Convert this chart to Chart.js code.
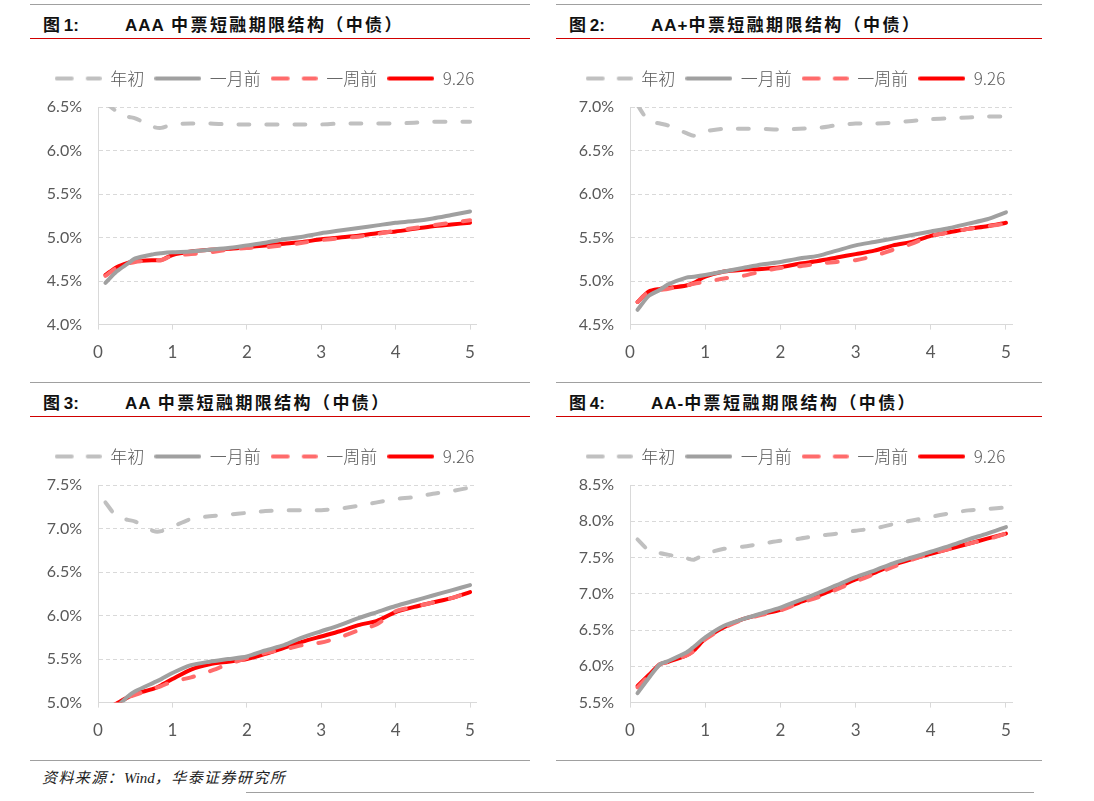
<!DOCTYPE html>
<html lang="zh">
<head>
<meta charset="UTF-8">
<title>中票短融期限结构</title>
<script src="https://cdn.jsdelivr.net/npm/chart.js"></script>
<style>
    body {
        margin: 0;
        width: 1094px;
        height: 801px;
        background: #fff;
        position: relative;
        overflow: hidden;
        font-family: "Noto Sans CJK SC", sans-serif;
    }
    .hline { position: absolute; height: 0; }
    .gray { border-top: 1.5px solid #a0a0a0; }
    .red { border-top: 1.5px solid #d00000; }
    .title {
        position: absolute;
        font-size: 17px;
        font-weight: bold;
        color: #111;
        white-space: nowrap;
        line-height: 20px;
    }
    .title .fig { position: absolute; left: 0; top: 0; }
    .title .fig b { font-family: "Liberation Sans", Arial, sans-serif; }
    .title .name { position: absolute; left: 82px; top: 0; letter-spacing: 2.4px; }
    .title .name b { font-family: "Liberation Sans", Arial, sans-serif; letter-spacing: 1px; }
    canvas { position: absolute; }
    .source {
        position: absolute;
        left: 42px;
        top: 766px;
        font-size: 15px;
        font-style: italic;
        letter-spacing: 1.4px;
        color: #222;
        white-space: nowrap;
    }
    .source span { font-family: "Liberation Serif", serif; letter-spacing: 0; }
</style>
</head>
<body>

<!-- panel frames -->
<div class="hline gray" style="left:30px;top:4px;width:500px"></div>
<div class="hline red" style="left:30px;top:38px;width:500px"></div>
<div class="hline gray" style="left:556px;top:4px;width:486px"></div>
<div class="hline red" style="left:556px;top:38px;width:486px"></div>
<div class="hline gray" style="left:30px;top:382px;width:500px"></div>
<div class="hline red" style="left:30px;top:416px;width:500px"></div>
<div class="hline gray" style="left:556px;top:382px;width:486px"></div>
<div class="hline red" style="left:556px;top:416px;width:486px"></div>

<div class="title" style="left:43px;top:14px"><span class="fig">图 <b>1:</b></span><span class="name"><b>AAA</b> 中票短融期限结构（中债）</span></div>
<div class="title" style="left:569px;top:14px"><span class="fig">图 <b>2:</b></span><span class="name"><b>AA+</b>中票短融期限结构（中债）</span></div>
<div class="title" style="left:43px;top:392px"><span class="fig">图 <b>3:</b></span><span class="name"><b>AA</b> 中票短融期限结构（中债）</span></div>
<div class="title" style="left:569px;top:392px"><span class="fig">图 <b>4:</b></span><span class="name"><b>AA-</b>中票短融期限结构（中债）</span></div>

<canvas id="c1" width="484" height="328" style="left:30px;top:48px"></canvas>
<canvas id="c2" width="494" height="328" style="left:556px;top:48px"></canvas>
<canvas id="c3" width="484" height="328" style="left:30px;top:426px"></canvas>
<canvas id="c4" width="494" height="328" style="left:556px;top:426px"></canvas>

<div class="hline gray" style="left:30px;top:760px;width:500px"></div>
<div class="hline gray" style="left:556px;top:760px;width:486px"></div>
<div class="source">资料来源：<span>Wind</span>，华泰证券研究所</div>
<div class="hline gray" style="left:246px;top:792px;width:788px"></div>

<script>
// maturities (years)
const tenors = [0.1, 0.25, 0.4, 0.5, 0.75, 0.85, 1, 1.25, 1.5, 1.75, 2, 2.25, 2.5, 2.75, 3, 3.25, 3.5, 3.75, 4, 4.25, 4.5, 4.75, 5];
const seriesNames = ['年初', '一月前', '一周前', '9.26'];
const xTicks = [0, 1, 2, 3, 4, 5];

// AAA
const aaaStart = [6.55, 6.45, 6.39, 6.37, 6.27, 6.26, 6.30, 6.31, 6.31, 6.30, 6.30, 6.30, 6.30, 6.30, 6.30, 6.31, 6.31, 6.31, 6.31, 6.32, 6.33, 6.33, 6.33];
const aaaMonth = [4.48, 4.61, 4.70, 4.76, 4.81, 4.82, 4.83, 4.84, 4.86, 4.88, 4.91, 4.94, 4.98, 5.01, 5.05, 5.08, 5.11, 5.14, 5.17, 5.19, 5.22, 5.26, 5.30];
const aaaWeek  = [4.56, 4.65, 4.70, 4.72, 4.74, 4.74, 4.79, 4.81, 4.83, 4.86, 4.88, 4.89, 4.91, 4.94, 4.97, 4.99, 5.01, 5.04, 5.08, 5.11, 5.14, 5.17, 5.20];
const aaaNow   = [4.57, 4.66, 4.71, 4.73, 4.74, 4.74, 4.80, 4.84, 4.86, 4.87, 4.89, 4.91, 4.93, 4.95, 4.98, 5.00, 5.02, 5.05, 5.07, 5.10, 5.13, 5.15, 5.17];

// AA+
const aapStart = [7.02, 6.84, 6.81, 6.79, 6.70, 6.67, 6.72, 6.75, 6.75, 6.75, 6.74, 6.75, 6.76, 6.79, 6.81, 6.81, 6.82, 6.84, 6.86, 6.87, 6.88, 6.89, 6.89];
const aapMonth = [4.67, 4.83, 4.90, 4.96, 5.04, 5.05, 5.07, 5.11, 5.15, 5.19, 5.22, 5.26, 5.29, 5.35, 5.41, 5.45, 5.49, 5.53, 5.57, 5.61, 5.66, 5.71, 5.79];
const aapWeek  = [4.76, 4.88, 4.90, 4.91, 4.95, 4.97, 4.99, 5.03, 5.06, 5.11, 5.15, 5.17, 5.20, 5.22, 5.24, 5.29, 5.36, 5.43, 5.52, 5.56, 5.60, 5.63, 5.66];
const aapNow   = [4.76, 4.88, 4.91, 4.92, 4.95, 4.98, 5.05, 5.11, 5.13, 5.14, 5.16, 5.20, 5.23, 5.27, 5.31, 5.35, 5.41, 5.45, 5.52, 5.56, 5.60, 5.63, 5.67];

// AA
const aaStart = [7.30, 7.14, 7.10, 7.08, 6.97, 6.97, 7.02, 7.11, 7.14, 7.16, 7.18, 7.20, 7.21, 7.21, 7.21, 7.23, 7.26, 7.30, 7.34, 7.36, 7.40, 7.43, 7.47];
const aaMonth = [4.86, 4.95, 5.07, 5.13, 5.23, 5.27, 5.34, 5.43, 5.47, 5.50, 5.53, 5.60, 5.66, 5.75, 5.82, 5.89, 5.97, 6.04, 6.11, 6.17, 6.23, 6.29, 6.35];
const aaWeek  = [4.92, 4.99, 5.06, 5.09, 5.16, 5.19, 5.24, 5.29, 5.36, 5.44, 5.51, 5.57, 5.61, 5.66, 5.69, 5.75, 5.83, 5.90, 6.05, 6.10, 6.15, 6.20, 6.27];
const aaNow   = [4.92, 4.99, 5.06, 5.10, 5.16, 5.20, 5.27, 5.38, 5.44, 5.47, 5.50, 5.56, 5.63, 5.70, 5.76, 5.82, 5.89, 5.94, 6.04, 6.10, 6.15, 6.20, 6.27];

// AA-
const aamStart = [7.75, 7.60, 7.56, 7.54, 7.49, 7.47, 7.55, 7.62, 7.65, 7.69, 7.73, 7.76, 7.80, 7.83, 7.87, 7.90, 7.96, 8.01, 8.06, 8.11, 8.15, 8.17, 8.19];
const aamMonth = [5.63, 5.84, 6.03, 6.07, 6.19, 6.27, 6.40, 6.56, 6.65, 6.73, 6.81, 6.91, 7.01, 7.12, 7.23, 7.32, 7.42, 7.50, 7.58, 7.66, 7.75, 7.83, 7.92];
const aamWeek  = [5.71, 5.87, 6.03, 6.06, 6.15, 6.21, 6.37, 6.53, 6.64, 6.71, 6.77, 6.87, 6.95, 7.06, 7.17, 7.27, 7.37, 7.47, 7.55, 7.62, 7.69, 7.75, 7.83];
const aamNow   = [5.73, 5.88, 6.03, 6.06, 6.15, 6.22, 6.38, 6.54, 6.65, 6.72, 6.78, 6.88, 6.97, 7.08, 7.20, 7.29, 7.40, 7.48, 7.55, 7.62, 7.69, 7.76, 7.83];

const lineStyles = [
    { color: '#c0c0c0', dash: [11, 17] },
    { color: '#a0a0a0', dash: [] },
    { color: '#ff6b6b', dash: [11, 17] },
    { color: '#ff0000', dash: [] }
];

const tickFont = { family: 'Lato, "Open Sans", sans-serif', size: 16 };

// little line samples for the legend (built-in 'line' style ignores dashes)
function legendSample(style) {
    const c = document.createElement('canvas');
    c.width = 47;
    c.height = 6;
    const g = c.getContext('2d');
    g.strokeStyle = style.color;
    g.lineWidth = 4;
    g.lineCap = 'round';
    g.setLineDash(style.dash.length ? [15, 16] : []);
    g.beginPath();
    g.moveTo(2, 3);
    g.lineTo(45, 3);
    g.stroke();
    return c;
}
const samples = lineStyles.map(legendSample);

// push plot area down a bit below the legend, and nudge legend right
const legendGap = {
    id: 'legendGap',
    beforeInit(chart) {
        const lg = chart.legend;
        const fit = lg.fit;
        lg.fit = function () {
            fit.call(this);
            this.height += 10;
        };
        const draw = lg.draw;
        lg.draw = function () {
            const c = this.ctx;
            c.save();
            c.translate(11.5, 0);
            draw.call(this);
            c.restore();
        };
    }
};

function toPoints(values) {
    return values.map((v, i) => ({ x: tenors[i], y: v }));
}

function makeChart(id, series, yMin, yMax, axisWidth) {
    const ctx = document.getElementById(id).getContext('2d');
    return new Chart(ctx, {
        type: 'line',
        data: {
            datasets: series.map((vals, i) => ({
                label: seriesNames[i],
                data: toPoints(vals),
                borderColor: lineStyles[i].color,
                backgroundColor: lineStyles[i].color,
                borderDash: lineStyles[i].dash,
                borderWidth: 4,
                borderCapStyle: 'round',
                borderJoinStyle: 'round',
                pointRadius: 0,
                pointStyle: samples[i],
                tension: 0.25,
                fill: false
            }))
        },
        plugins: [legendGap],
        options: {
            responsive: false,
            animation: false,
            layout: { padding: { top: 12, right: 38, bottom: 0, left: 0 } },
            plugins: {
                tooltip: { enabled: false },
                legend: {
                    display: true,
                    position: 'top',
                    labels: {
                        usePointStyle: true,
                        pointStyleWidth: 47,
                        padding: 10,
                        color: '#595959',
                        font: { family: '"Noto Sans CJK SC", sans-serif', size: 17, weight: '300' }
                    }
                }
            },
            scales: {
                x: {
                    type: 'linear',
                    min: 0,
                    max: 5.08,
                    afterBuildTicks: (scale) => { scale.ticks = xTicks.map(v => ({ value: v })); },
                    ticks: {
                        color: '#595959',
                        font: { family: tickFont.family, size: 17 },
                        padding: 13,
                        maxRotation: 0
                    },
                    grid: {
                        drawOnChartArea: false,
                        drawTicks: true,
                        tickLength: 5,
                        color: '#d9d9d9'
                    },
                    border: { display: true, color: '#d9d9d9', width: 1 }
                },
                y: {
                    min: yMin,
                    max: yMax,
                    afterFit: (scale) => { scale.width = axisWidth; },
                    ticks: {
                        stepSize: 0.5,
                        color: '#595959',
                        font: tickFont,
                        padding: 16,
                        callback: (v) => v.toFixed(1) + '%'
                    },
                    grid: {
                        drawTicks: false,
                        color: '#d9d9d9',
                        lineWidth: 1
                    },
                    border: { display: true, color: '#d9d9d9', width: 1, dash: [4, 3] }
                }
            }
        }
    });
}

makeChart('c1', [aaaStart, aaaMonth, aaaWeek, aaaNow], 4.0, 6.5, 68);
makeChart('c2', [aapStart, aapMonth, aapWeek, aapNow], 4.5, 7.0, 74);
makeChart('c3', [aaStart, aaMonth, aaWeek, aaNow], 5.0, 7.5, 68);
makeChart('c4', [aamStart, aamMonth, aamWeek, aamNow], 5.5, 8.5, 74);
</script>
</body>
</html>
